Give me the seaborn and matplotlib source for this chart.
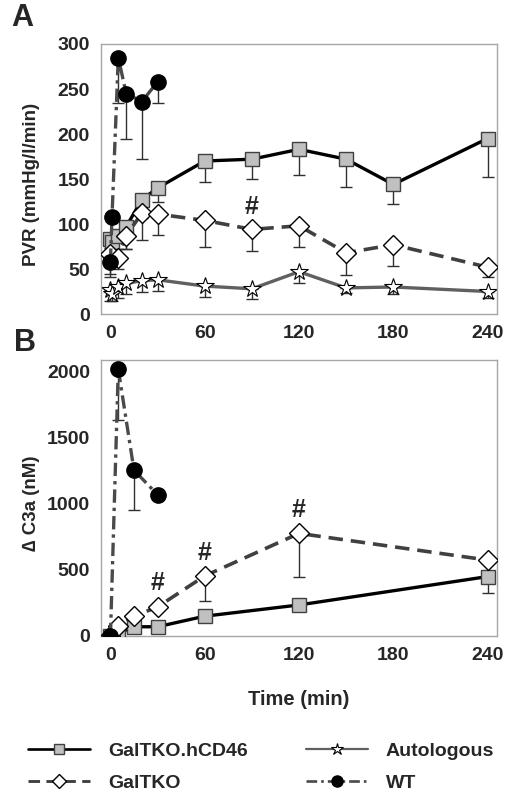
import numpy as np
import matplotlib
matplotlib.use("Agg")
import matplotlib.pyplot as plt
from matplotlib.lines import Line2D
import seaborn as sns

# ====================
# DATA
# ====================
# Panel A: PVR (mmHg/l/min)
t_hcd46_a = [0, 1, 5, 10, 20, 30, 60, 90, 120, 150, 180, 240]
pvr_hcd46 = [83, 80, 87, 97, 127, 140, 170, 172, 183, 172, 144, 195]
err_hcd46_a = [10, 8, 15, 25, 20, 15, 23, 22, 29, 31, 22, 43]

t_galtko_a = [0, 5, 10, 20, 30, 60, 90, 120, 150, 180, 240]
pvr_galtko = [67, 62, 87, 112, 111, 104, 94, 98, 68, 77, 52]
err_galtko_a = [22, 12, 15, 30, 23, 29, 24, 24, 25, 24, 11]

t_auto_a = [0, 1, 5, 10, 20, 30, 60, 90, 120, 150, 180, 240]
pvr_auto = [27, 22, 30, 34, 37, 38, 31, 28, 47, 29, 30, 25]
err_auto_a = [13, 8, 12, 12, 12, 12, 12, 11, 12, 6, 8, 7]

t_wt_a = [0, 1, 5, 10, 20, 30]
pvr_wt = [58, 108, 285, 245, 236, 258]
err_wt_a = [17, 0, 50, 50, 64, 23]

# Panel B: delta C3a (nM)
t_hcd46_b = [0, 5, 15, 30, 60, 120, 240]
c3a_hcd46 = [0, 20, 70, 70, 150, 235, 450]
err_hcd46_b = [0, 0, 0, 0, 0, 0, 125]

t_galtko_b = [0, 5, 15, 30, 60, 120, 240]
c3a_galtko = [0, 75, 150, 220, 455, 777, 575]
err_galtko_b = [0, 0, 0, 0, 188, 328, 0]

t_wt_b = [0, 5, 15, 30]
c3a_wt = [0, 2020, 1255, 1070]
err_wt_b = [0, 385, 300, 0]

# significance marks (time, height)
hash_a = [(90, 119)]
hash_b = [(30, 400), (60, 626), (120, 953)]

# ====================
# STYLE
# ====================
sns.set_style("white")
plt.rcParams['font.family'] = ['Liberation Sans', 'DejaVu Sans']
plt.rcParams['font.weight'] = 'bold'

spine_col = "#a6a6a6"
styles = {
    "GalTKO.hCD46": dict(color="black", lw=2.4, ls="-", marker="s", ms=10,
                         mfc="#c0c0c0", mec="#404040", mew=1.0),
    "GalTKO": dict(color="#404040", lw=2.6, ls=(0, (4, 2.2)), marker="D", ms=10,
                   mfc="white", mec="black", mew=1.0),
    "Autologous": dict(color="#606060", lw=2.4, ls="-", marker="*", ms=13,
                       mfc="white", mec="black", mew=0.8),
    "WT": dict(color="#4a4a4a", lw=2.4, ls=(0, (4, 1.5, 1, 1.5)), marker="o", ms=11,
               mfc="black", mec="black", mew=1.0),
}


def draw_series(ax, t, y, err, name, z):
    st = styles[name]
    ax.errorbar(t, y, yerr=[err, np.zeros(len(err))], fmt="none",
                ecolor="#303030", elinewidth=1.0, capsize=4, capthick=1.0, zorder=z)
    sns.lineplot(x=t, y=y, ax=ax, color=st["color"], linewidth=st["lw"],
                 linestyle=st["ls"], marker=st["marker"], markersize=st["ms"],
                 markerfacecolor=st["mfc"], markeredgecolor=st["mec"],
                 markeredgewidth=st["mew"], zorder=z + 0.5, sort=False,
                 estimator=None, errorbar=None)


def style_axes(ax, ymax, ystep):
    ax.set_xlim(-6, 246)
    ax.set_ylim(0, ymax)
    ax.set_xticks(range(0, 241, 60))
    ax.set_yticks(range(0, 2001 if ymax > 1000 else ymax + 1, ystep))
    for s in ax.spines.values():
        s.set_color(spine_col)
        s.set_linewidth(1.0)
    ax.tick_params(axis="both", direction="out", length=4, width=1.0,
                   color="#505050", labelsize=14, pad=4)
    ax.tick_params(axis="x", pad=4)
    for lab in ax.get_xticklabels() + ax.get_yticklabels():
        lab.set_fontweight("bold")
    ax.set_xlabel("")
    ax.set_ylabel("")


fig = plt.figure(figsize=(5.12, 8.01), dpi=100)
axA = fig.add_axes([101 / 512, 1 - 314 / 801, 396 / 512, 270 / 801])
axB = fig.add_axes([101 / 512, 1 - 636 / 801, 396 / 512, 276 / 801])

# Panel A
draw_series(axA, t_auto_a, pvr_auto, err_auto_a, "Autologous", 2)
draw_series(axA, t_hcd46_a, pvr_hcd46, err_hcd46_a, "GalTKO.hCD46", 3)
draw_series(axA, t_galtko_a, pvr_galtko, err_galtko_a, "GalTKO", 4)
draw_series(axA, t_wt_a, pvr_wt, err_wt_a, "WT", 5)
style_axes(axA, 300, 50)
axA.set_ylabel("PVR (mmHg/l/min)", fontsize=13.5, fontweight="bold")
axA.yaxis.set_label_coords(-0.155, 0.48)
for tx, ty in hash_a:
    axA.text(tx, ty, "#", ha="center", va="center", fontsize=18, fontweight="bold")

# Panel B
draw_series(axB, t_hcd46_b, c3a_hcd46, err_hcd46_b, "GalTKO.hCD46", 3)
draw_series(axB, t_galtko_b, c3a_galtko, err_galtko_b, "GalTKO", 4)
draw_series(axB, t_wt_b, c3a_wt, err_wt_b, "WT", 5)
style_axes(axB, 2090, 500)
axB.set_ylabel("\u2206 C3a (nM)", fontsize=13.5, fontweight="bold")
axB.yaxis.set_label_coords(-0.155, 0.48)
axB.set_xlabel("Time (min)", fontsize=14.5, fontweight="bold")
axB.xaxis.set_label_coords(0.5, -0.195)
for tx, ty in hash_b:
    axB.text(tx, ty, "#", ha="center", va="center", fontsize=18, fontweight="bold")

# Panel letters
fig.text(22 / 512, 1 - 18 / 801, "A", ha="center", va="center", fontsize=22, fontweight="bold")
fig.text(25 / 512, 1 - 343 / 801, "B", ha="center", va="center", fontsize=22, fontweight="bold")

# Legend
names = ["GalTKO.hCD46", "GalTKO", "Autologous", "WT"]
leg_ms = {"GalTKO.hCD46": 7, "GalTKO": 7, "Autologous": 9, "WT": 8}
handles = []
for n in names:
    st = styles[n]
    handles.append(Line2D([], [], color=st["color"], lw=st["lw"] * 0.8 if n != "Autologous" else 1.6,
                          ls=st["ls"], marker=st["marker"], ms=leg_ms[n],
                          mfc=st["mfc"], mec=st["mec"], mew=st["mew"]))
fig.legend(handles, names, loc="center", bbox_to_anchor=(0.51, 1 - 767 / 801), ncol=2,
           frameon=False, handlelength=3.2, handletextpad=0.9,
           columnspacing=3.0, labelspacing=0.75, prop={"weight": "bold", "size": 14})

fig.savefig("out.png", dpi=100)
